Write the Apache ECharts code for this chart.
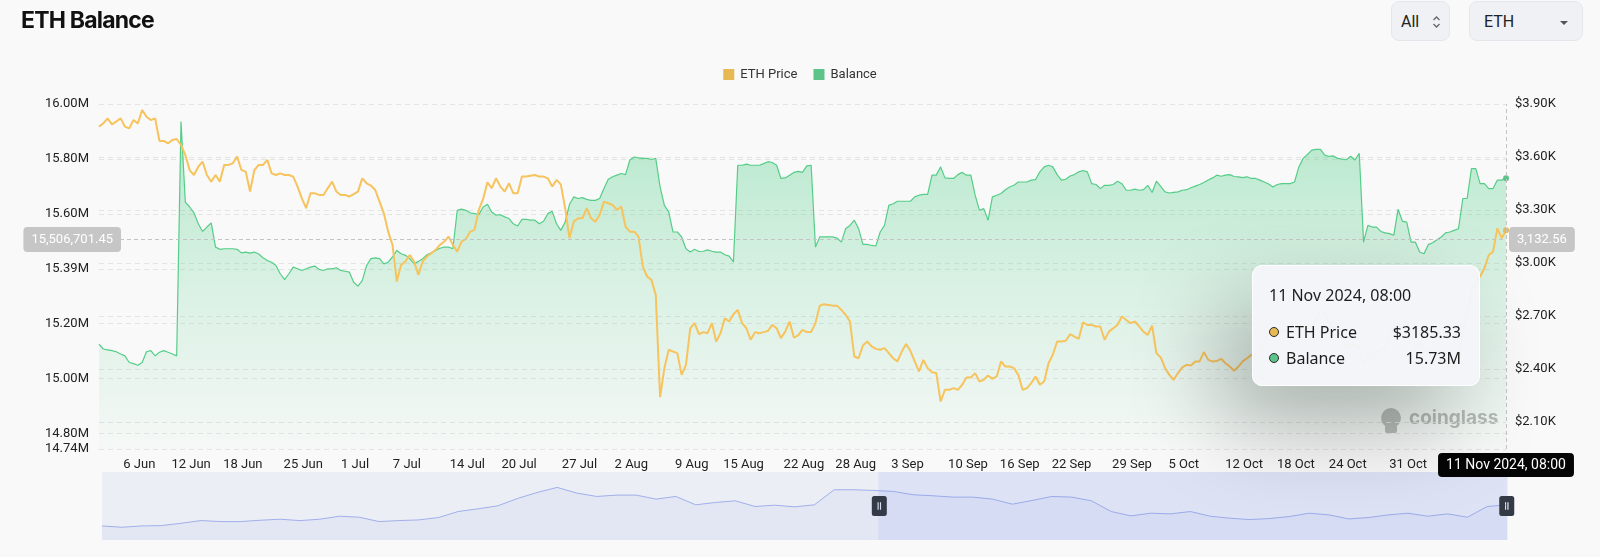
<!DOCTYPE html>
<html><head><meta charset="utf-8">
<script src="https://cdn.jsdelivr.net/npm/echarts@6/dist/echarts.min.js"></script>
<style>
html,body{margin:0;padding:0;background:#f9f9f9;}
#wrap{position:relative;width:1600px;height:557px;overflow:hidden;}
#chart{position:absolute;left:0;top:0;width:1600px;height:557px;}
#title{position:absolute;left:21px;top:9px;font:700 23px Inter,Roboto,sans-serif;line-height:23px;letter-spacing:-0.8px;color:#111;z-index:2;}
.btn{position:absolute;top:1px;height:40px;box-sizing:border-box;border:1px solid #e3e6eb;border-radius:8px;background:#eff1f5;font:16px Roboto,sans-serif;color:#222;z-index:2;}
.btn span{position:absolute;top:10px;line-height:20px;}
</style></head>
<body>
<div id="wrap">
  <div id="chart"></div>
  <div id="title">ETH Balance</div>
  <div class="btn" style="left:1391px;width:59px;"><span style="left:9px">All</span>
    <svg style="position:absolute;left:40px;top:12px" width="9" height="16" viewBox="0 0 9 16"><path d="M1.5 6 L4.5 3 L7.5 6 M1.5 10 L4.5 13 L7.5 10" fill="none" stroke="#666" stroke-width="1.3"/></svg>
  </div>
  <div class="btn" style="left:1469px;width:114px;"><span style="left:14px">ETH</span>
    <svg style="position:absolute;left:89px;top:18px" width="10" height="6" viewBox="0 0 10 6"><path d="M1 1 L9 1 L5 5 Z" fill="#555"/></svg>
  </div>
</div>
<script>
// ---------------- data ----------------
const seriesNames = ['ETH Price', 'Balance'];
const startTime = Date.UTC(2024, 5, 1, 8);   // 1 Jun 2024 08:00, one point every 12 h
const stepMs = 12 * 3600 * 1000;

// Balance in millions of ETH
const balanceM = [
15.126,15.108,15.105,15.102,15.098,15.090,15.083,15.059,15.055,15.049,15.059,15.098,15.102,15.083,15.096,15.102,15.096,15.090,15.083,
15.936,15.643,15.625,15.604,15.564,15.536,15.552,15.567,15.479,15.471,15.473,15.473,15.473,15.471,15.458,15.461,15.457,15.461,15.454,15.440,15.430,15.424,
15.412,15.382,15.361,15.382,15.406,15.400,15.394,15.400,15.406,15.410,15.398,15.394,15.400,15.400,15.404,15.394,15.391,15.388,15.351,15.337,15.357,15.412,15.437,15.440,15.437,15.418,15.424,15.443,15.467,15.455,15.449,15.437,15.418,15.427,15.437,15.451,15.458,15.467,15.475,15.479,15.479,15.473,
15.613,15.617,15.613,15.604,15.601,15.597,15.625,15.635,15.607,15.595,15.597,15.589,15.583,15.564,15.556,15.580,15.580,15.577,15.577,15.564,15.573,15.601,15.609,15.564,15.540,15.570,15.634,15.662,15.656,15.659,15.653,15.649,15.649,15.656,15.692,15.726,15.735,15.741,15.747,15.743,15.796,15.807,15.804,15.802,15.802,15.798,15.802,15.698,15.631,15.607,15.534,15.534,15.516,15.473,15.461,15.471,15.463,15.464,15.469,15.464,15.461,15.461,15.451,15.446,15.425,
15.777,15.777,15.781,15.777,15.777,15.777,15.783,15.790,15.787,15.777,15.729,15.731,15.741,15.751,15.755,15.751,15.775,15.777,
15.479,15.516,15.516,15.516,15.516,15.512,15.497,15.546,15.558,15.577,15.546,15.489,15.489,15.485,15.483,15.534,15.558,15.631,15.637,15.646,15.646,15.646,15.646,15.662,15.668,15.671,15.671,15.741,15.741,15.771,15.731,15.729,15.729,15.743,15.751,15.741,15.741,15.668,15.613,15.619,15.577,15.662,15.668,15.674,15.688,15.698,15.704,15.716,15.716,15.716,15.723,15.725,15.753,15.771,15.777,15.771,15.743,15.723,15.726,15.738,15.743,15.753,15.758,15.753,15.710,15.707,15.692,15.704,15.704,15.707,15.719,15.710,15.686,15.686,15.690,15.686,15.688,15.704,15.678,15.719,
15.700,15.680,15.676,15.678,15.680,15.686,15.688,15.695,15.701,15.707,15.714,15.723,15.731,15.741,15.737,15.741,15.743,15.736,15.735,15.732,15.735,15.729,15.729,15.723,15.716,15.709,15.698,15.707,15.710,15.710,15.710,15.716,15.771,15.802,15.816,15.832,15.835,15.835,15.814,15.809,15.811,15.802,15.799,15.797,15.810,15.796,15.820,15.497,15.558,15.552,15.552,15.536,15.531,15.528,15.522,15.617,15.573,15.570,15.497,15.497,15.461,15.455,15.488,15.495,15.506,15.516,15.531,15.534,15.540,15.546,15.656,15.656,15.765,15.765,15.710,15.710,15.692,15.692,15.723,15.723,15.730
];

// ETH price in USD
const priceUSD = [
3772,3790,3819,3785,3800,3819,3772,3762,3809,3790,3866,3828,3809,3819,3691,3691,3677,3696,3702,3668,3611,3526,3498,3545,3574,3498,3460,3498,3460,3555,3555,3564,3602,3526,3517,3404,3526,3555,3555,3583,3507,3498,3507,3498,3498,3489,3432,3366,3310,3394,3394,3385,3385,3423,3460,3404,3385,3385,3376,3389,3404,3479,3451,3438,3413,3347,3281,3177,3102,2894,2989,3008,3045,3008,2932,3008,3036,3055,3074,3102,3121,3149,3102,
3064,3121,3136,3177,3187,3300,3362,3457,3423,3479,3432,3404,3451,3394,3394,3489,3489,3494,3498,3489,3489,3479,3432,3470,3445,3310,3140,3234,3253,3253,3310,3253,3234,3272,3347,3338,3328,3300,3319,3206,3177,3177,3149,2979,2923,2904,2819,2240,2404,2508,2498,2489,2366,2423,2630,2659,2596,2608,2602,2659,2555,2602,2687,2668,2709,2734,2659,2630,2564,2608,2602,2608,2615,2649,2630,2574,2611,2668,2577,2589,2621,2608,
2608,2659,2758,2766,2762,2758,2758,2734,2706,2668,2470,2460,2532,2555,2527,2513,2508,2517,2489,2460,2442,2498,2540,2502,2442,2385,2451,2404,2381,2376,2215,2281,2281,2291,2281,2310,2351,2351,2376,2328,2338,2362,2343,2357,2442,2413,2413,2404,2366,2281,2291,2319,2357,2310,2328,2432,2480,2555,2555,2559,2596,2583,2570,2664,2649,2649,2640,2640,2564,2611,2630,2649,2696,2677,2659,2668,2640,2611,2592,2645,2489,
2465,2405,2366,2338,2376,2408,2423,2419,2442,2442,2495,2451,2442,2445,2457,2432,2413,2389,2413,2442,2460,2479,
2470,2480,2540,2620,2600,2580,2620,2610,2620,2600,2630,2640,2645,2650,2680,2740,2720,2660,2630,2620,2560,2530,2530,2540,2520,2430,2470,2480,2490,2510,2520,2570,2630,2640,2650,2670,2600,2520,2550,2510,2500,2490,2460,2440,2430,2400,2410,2430,2620,2720,
2840,2890,2923,2970,3045,3064,3196,3140,3185.33
];

// overview line drawn inside the range slider (relative height)
const sliderShadow = [42,38,42,43,50,58,55,55,59,62,58,62,71,68,55,58,60,67,85,93,102,124,142,157,140,130,134,134,122,130,105,112,117,100,104,99,105,150,150,148,145,135,132,128,128,122,107,118,130,128,117,85,72,80,78,85,71,65,61,64,70,80,75,63,67,75,80,71,78,68,100,105];

const xTickDates = ['2024-06-06','2024-06-12','2024-06-18','2024-06-25','2024-07-01','2024-07-07','2024-07-14','2024-07-20','2024-07-27','2024-08-02','2024-08-09','2024-08-15','2024-08-22','2024-08-28','2024-09-03','2024-09-10','2024-09-16','2024-09-22','2024-09-29','2024-10-05','2024-10-12','2024-10-18','2024-10-24','2024-10-31'];
const xTickLabels = ['6 Jun','12 Jun','18 Jun','25 Jun','1 Jul','7 Jul','14 Jul','20 Jul','27 Jul','2 Aug','9 Aug','15 Aug','22 Aug','28 Aug','3 Sep','10 Sep','16 Sep','22 Sep','29 Sep','5 Oct','12 Oct','18 Oct','24 Oct','31 Oct'];
const leftTickValues = [14744000,14800000,15000000,15200000,15400000,15600000,15800000,16000000];
const leftTickLabels = ['14.74M','14.80M','15.00M','15.20M','15.39M','15.60M','15.80M','16.00M'];
const rightTickValues = [2100,2400,2700,3000,3300,3600,3900];
const rightTickLabels = ['$2.10K','$2.40K','$2.70K','$3.00K','$3.30K','$3.60K','$3.90K'];

// ---------------- build ----------------
const timeOf = i => startTime + i * stepMs;
const balanceData = balanceM.map((v, i) => [timeOf(i), Math.round(v * 1e6)]);
const priceData = priceUSD.map((v, i) => [timeOf(i), v]);
const endTime = timeOf(Math.max(balanceM.length, priceUSD.length) - 1);
const xTickValues = xTickDates.map(s => Date.parse(s + 'T00:00:00Z'));
const MONTHS = ['Jan','Feb','Mar','Apr','May','Jun','Jul','Aug','Sep','Oct','Nov','Dec'];
const pad = n => (n < 10 ? '0' : '') + n;
const fmtFull = t => { const d = new Date(t); return d.getUTCDate() + ' ' + MONTHS[d.getUTCMonth()] + ' ' + d.getUTCFullYear() + ', ' + pad(d.getUTCHours()) + ':' + pad(d.getUTCMinutes()); };
const nearestLabel = (vals, labels, v) => { let b = 0; vals.forEach((x, i) => { if (Math.abs(x - v) < Math.abs(vals[b] - v)) b = i; }); return labels[b]; };
const num2 = v => Number(v).toLocaleString('en-US', {minimumFractionDigits: 2, maximumFractionDigits: 2});

const FONT = 'Roboto';
const PRICE_COLOR = '#f6c35c';
const BAL_COLOR = '#55cd88';

const chart = echarts.init(document.getElementById('chart'), null, {renderer: 'canvas'});
const option = {
  animation: false,
  backgroundColor: 'transparent',
  textStyle: {fontFamily: FONT},
  legend: {
    data: seriesNames, top: 63, left: 'center', itemWidth: 11, itemHeight: 11, itemGap: 16,
    icon: 'rect', textStyle: {color: '#333', fontSize: 13, fontFamily: FONT, padding: [0, 0, 0, 1]}
  },
  grid: [
    {left: 99, right: 94, top: 104, bottom: 108, outerBoundsMode: 'none'},
    {left: 102, right: 93, top: 472, height: 68, show: true, backgroundColor: '#eceef6', borderWidth: 0, outerBoundsMode: 'none'}
  ],
  tooltip: {
    trigger: 'axis', alwaysShowContent: true, confine: false,
    backgroundColor: 'rgba(244,245,249,0.97)', borderColor: '#ffffff', borderWidth: 1, padding: [21, 18, 14, 16],
    extraCssText: 'width:228px;box-sizing:border-box;border-radius:10px;box-shadow:-30px 40px 90px rgba(0,0,0,0.28);',
    position: () => [1252, 265],
    axisPointer: {
      type: 'cross',
      crossStyle: {color: '#c4c4c4', type: [4, 3], width: 1},
      lineStyle: {color: '#c4c4c4', type: [4, 3], width: 1}
    },
    formatter: ps => {
      const arr = (Array.isArray(ps) ? ps : [ps]).filter(p => seriesNames.includes(p.seriesName));
      if (!arr.length) return '';
      const t = arr[0].value[0];
      const row = (color, name, val) =>
        '<div style="display:flex;align-items:center;height:26px;">' +
        '<span style="display:inline-block;width:10px;height:10px;border-radius:50%;background:' + color + ';border:1.5px solid #2a2a2a;box-sizing:border-box;margin-right:7px;"></span>' +
        '<span>' + name + '</span><span style="margin-left:auto;">' + val + '</span></div>';
      let html = '<div style="font-family:\'Noto Sans\';font-size:16px;color:#1d1d1d;">' +
        '<div style="height:16px;line-height:16px;margin-bottom:16px;">' + fmtFull(t) + '</div>';
      const p = arr.find(a => a.seriesName === 'ETH Price');
      const b = arr.find(a => a.seriesName === 'Balance');
      if (p) html += row('#e7b955', 'ETH Price', '$' + Number(p.value[1]).toFixed(2));
      if (b) html += row('#5cc48b', 'Balance', (b.value[1] / 1e6).toFixed(2) + 'M');
      return html + '</div>';
    }
  },
  xAxis: [
    {
      type: 'value', gridIndex: 0, min: startTime, max: endTime, scale: true,
      axisLine: {show: false}, axisTick: {show: false, customValues: xTickValues}, splitLine: {show: false},
      axisLabel: {customValues: xTickValues, color: '#222', fontSize: 13, fontFamily: FONT, margin: 9, hideOverlap: false,
        formatter: v => nearestLabel(xTickValues, xTickLabels, v)},
      axisPointer: {snap: true, label: {backgroundColor: '#050505', color: '#fff', fontSize: 14, fontFamily: FONT, padding: [5, 8, 5, 8], borderRadius: 4, margin: 4,
        formatter: p => fmtFull(p.value)}}
    },
    {type: 'category', gridIndex: 1, show: false, boundaryGap: false, data: sliderShadow.map((v, i) => i), axisPointer: {show: false}},
    {type: 'value', gridIndex: 1, show: false, min: 0, max: 100, axisPointer: {show: false}}
  ],
  yAxis: [
    {
      type: 'value', gridIndex: 0, position: 'left', min: 14744000, max: 16000000,
      axisLine: {show: false}, axisTick: {show: false, customValues: leftTickValues},
      splitLine: {show: true, lineStyle: {color: '#e4e4e4', type: [5, 4], width: 1}},
      axisLabel: {customValues: leftTickValues, color: '#222', fontSize: 13, fontFamily: FONT, margin: 10,
        formatter: v => nearestLabel(leftTickValues, leftTickLabels, v)},
      axisPointer: {label: {backgroundColor: '#c6c6c6', color: '#fff', fontSize: 13, fontFamily: FONT, padding: [6, 8, 6, 8], borderRadius: 4, margin: -22,
        formatter: p => num2(p.value)}}
    },
    {
      type: 'value', gridIndex: 0, position: 'right', min: 1946, max: 3900,
      axisLine: {show: false}, axisTick: {show: false, customValues: rightTickValues},
      splitLine: {show: true, lineStyle: {color: '#e4e4e4', type: [5, 4], width: 1}},
      axisLabel: {customValues: rightTickValues, color: '#222', fontSize: 13, fontFamily: FONT, margin: 9,
        formatter: v => nearestLabel(rightTickValues, rightTickLabels, v)},
      axisPointer: {label: {backgroundColor: '#c6c6c6', color: '#fff', fontSize: 13, fontFamily: FONT, padding: [6, 8, 6, 8], borderRadius: 4, margin: 3,
        formatter: p => num2(p.value)}}
    },
    {type: 'value', gridIndex: 1, show: false, min: 0, max: 203, axisPointer: {show: false}}
  ],
  dataZoom: [{
    type: 'slider', xAxisIndex: 2, filterMode: 'none', start: 55.2, end: 100,
    left: 102, right: 93, top: 472, height: 68,
    backgroundColor: 'rgba(0,0,0,0)', borderColor: 'rgba(0,0,0,0)', fillerColor: 'rgba(125,145,240,0.13)',
    showDataShadow: false, showDetail: false, brushSelect: false, moveHandleSize: 0, realtime: false,
    handleIcon: 'path://M2,0H10Q12,0,12,2V14Q12,16,10,16H2Q0,16,0,14V2Q0,0,2,0Z M4.6,5V11H5.5V5Z M6.5,5V11H7.4V5Z',
    handleSize: 20, handleStyle: {color: '#353a47', borderColor: '#353a47', borderWidth: 0},
    emphasis: {handleStyle: {color: '#353a47', borderColor: '#353a47'}}
  }],
  graphic: [
    {type: 'text', left: 1409, top: 409, z: 0, silent: true,
      style: {text: 'coinglass', fill: '#b9b9b9', font: '700 19px Inter, Roboto, sans-serif'}},
    {type: 'circle', left: 1381, top: 408, z: 0, silent: true, shape: {r: 10}, style: {fill: '#bdbdbd'}},
    {type: 'rect', left: 1385, top: 425, z: 0, silent: true, shape: {width: 12, height: 8, r: 2}, style: {fill: '#bdbdbd'}}
  ],
  series: [
    {
      name: 'Balance', type: 'line', xAxisIndex: 0, yAxisIndex: 0, data: balanceData,
      showSymbol: false, symbol: 'circle', symbolSize: 5, z: 2,
      itemStyle: {color: '#5cc48b'},
      lineStyle: {color: BAL_COLOR, width: 1.2},
      areaStyle: {origin: 'start', color: new echarts.graphic.LinearGradient(0, 0, 0, 1, [
        {offset: 0, color: 'rgba(86,208,140,0.58)'}, {offset: 0.55, color: 'rgba(86,208,140,0.25)'}, {offset: 1, color: 'rgba(86,208,140,0.03)'}])},
      emphasis: {disabled: true}
    },
    {
      name: 'ETH Price', type: 'line', xAxisIndex: 0, yAxisIndex: 1, data: priceData,
      showSymbol: false, symbol: 'circle', symbolSize: 5, z: 3,
      itemStyle: {color: '#e7b955'},
      lineStyle: {color: PRICE_COLOR, width: 2},
      emphasis: {disabled: true}
    },
    {
      type: 'line', xAxisIndex: 1, yAxisIndex: 2, data: sliderShadow, silent: true,
      showSymbol: false, lineStyle: {color: '#8ea0e6', width: 0.8}, areaStyle: {color: '#e0e4f3'},
      tooltip: {show: false}, emphasis: {disabled: true}
    },
    {
      type: 'line', xAxisIndex: 2, yAxisIndex: 2, data: [[0, 0], [100, 0]], silent: true,
      showSymbol: false, lineStyle: {opacity: 0}, tooltip: {show: false}
    }
  ]
};
chart.setOption(option);
setTimeout(() => { chart.dispatchAction({type: 'showTip', x: 1506, y: 239.5}); }, 50);
</script>
</body></html>
